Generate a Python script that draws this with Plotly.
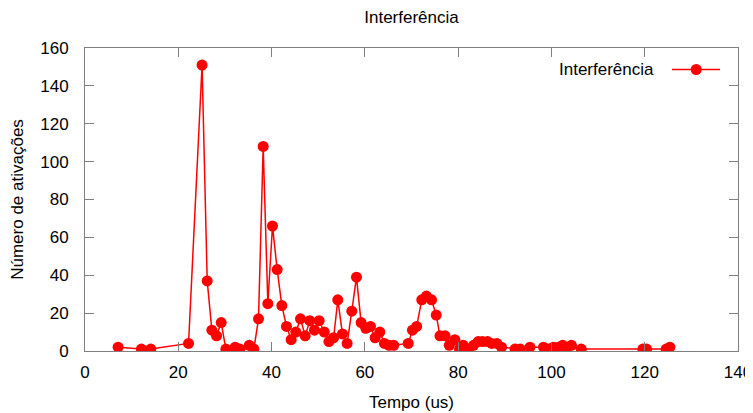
import plotly.graph_objects as go

# Data
tempo_us = [7.1, 12.1, 14.1, 22.2, 25.1, 26.2, 27.2, 28.2, 29.2, 30.2,
            32.2, 33.2, 35.2, 36.2, 37.2, 38.2, 39.2, 40.2, 41.2, 42.2,
            43.2, 44.2, 45.2, 46.2, 47.2, 48.2, 49.2, 50.2, 51.3, 52.3,
            53.3, 54.2, 55.2, 56.2, 57.2, 58.2, 59.2, 60.2, 61.2, 62.2,
            63.2, 64.2, 65.2, 66.2, 69.3, 70.2, 71.1, 72.2, 73.2, 74.3,
            75.3, 76.1, 77.2, 78.1, 79.3, 80.3, 81.1, 82.2, 83.3, 84.3,
            85.2, 86.3, 87.2, 88.3, 89.3, 92.2, 93.3, 95.4, 98.3, 99.3,
            100.4, 101.5, 102.4, 103.4, 104.3, 106.4, 119.6, 120.4, 124.6, 125.4]
ativacoes = [2, 1, 1, 4, 151, 37, 11, 8, 15, 1,
             2, 1, 3, 1, 17, 108, 25, 66, 43, 24,
             13, 6, 10, 17, 8, 16, 11, 16, 10, 5,
             7, 27, 9, 4, 21, 39, 15, 12, 13, 7,
             10, 4, 3, 3, 4, 11, 13, 27, 29, 27,
             19, 8, 8, 3, 6, 1, 3, 1, 3, 5,
             5, 5, 4, 4, 2, 1, 1, 2, 2, 1,
             2, 2, 3, 2, 3, 1, 1, 1, 1, 2]

x_ticks = [0, 20, 40, 60, 80, 100, 120, 140]
y_ticks = [0, 20, 40, 60, 80, 100, 120, 140, 160]

series_name = "Interferência"
title_text = "Interferência"
x_title = "Tempo (us)"
y_title = "Número de ativações"

RED = "#ff0000"
GREY = "#808080"
FONT = "Liberation Sans, Arial, sans-serif"
FS = 17

# page body has an 8px default margin, so the figure is sized to fill the rest
W, H = 745, 405

fig = go.Figure()
fig.add_trace(go.Scatter(
    x=tempo_us, y=ativacoes, mode="lines+markers", name=series_name,
    line=dict(color=RED, width=1.5),
    marker=dict(color=RED, size=11, line=dict(width=0)),
    showlegend=False,
))

axis_common = dict(
    showgrid=False, zeroline=False, showline=True, linecolor=GREY, linewidth=1,
    mirror="ticks", ticks="inside", ticklen=9, tickcolor=GREY, tickwidth=1,
    tickfont=dict(family=FONT, size=FS, color="#000"),
)

fig.update_xaxes(range=[0, 140], tickvals=x_ticks, ticktext=[str(v) for v in x_ticks],
                 ticklabelstandoff=6,
                 title=dict(text=x_title, font=dict(family=FONT, size=FS, color="#000"), standoff=14),
                 **axis_common)
fig.update_yaxes(range=[0, 160], tickvals=y_ticks, ticktext=[str(v) for v in y_ticks],
                 ticklabelstandoff=12,
                 title=dict(text=y_title, font=dict(family=FONT, size=FS, color="#000"), standoff=15),
                 **axis_common)

# Legend drawn gnuplot-style: text left, sample right
lx, ly = 0.8744, 0.929
fig.add_annotation(x=lx, y=ly, xref="paper", yref="paper", text=series_name,
                   showarrow=False, xanchor="right", yanchor="middle",
                   font=dict(family=FONT, size=FS, color="#000"))
fig.add_shape(type="line", xref="paper", yref="paper", x0=0.899, x1=0.9724, y0=ly, y1=ly,
              line=dict(color=RED, width=1.5))
fig.add_shape(type="circle", xref="paper", yref="paper", xsizemode="pixel", ysizemode="pixel",
              xanchor=0.936, yanchor=ly, x0=-5.5, x1=5.5, y0=-5.5, y1=5.5,
              fillcolor=RED, line=dict(width=0))

fig.update_layout(
    width=W, height=H,
    margin=dict(l=77, r=15, t=40, b=62, autoexpand=False),
    plot_bgcolor="white", paper_bgcolor="white",
    title=dict(text=title_text, x=0.5, xref="paper", xanchor="center",
               y=1 - 9 / H, yref="container", yanchor="middle",
               font=dict(family=FONT, size=FS, color="#000")),
    font=dict(family=FONT, size=FS, color="#000"),
)

fig.write_html("out.html")
